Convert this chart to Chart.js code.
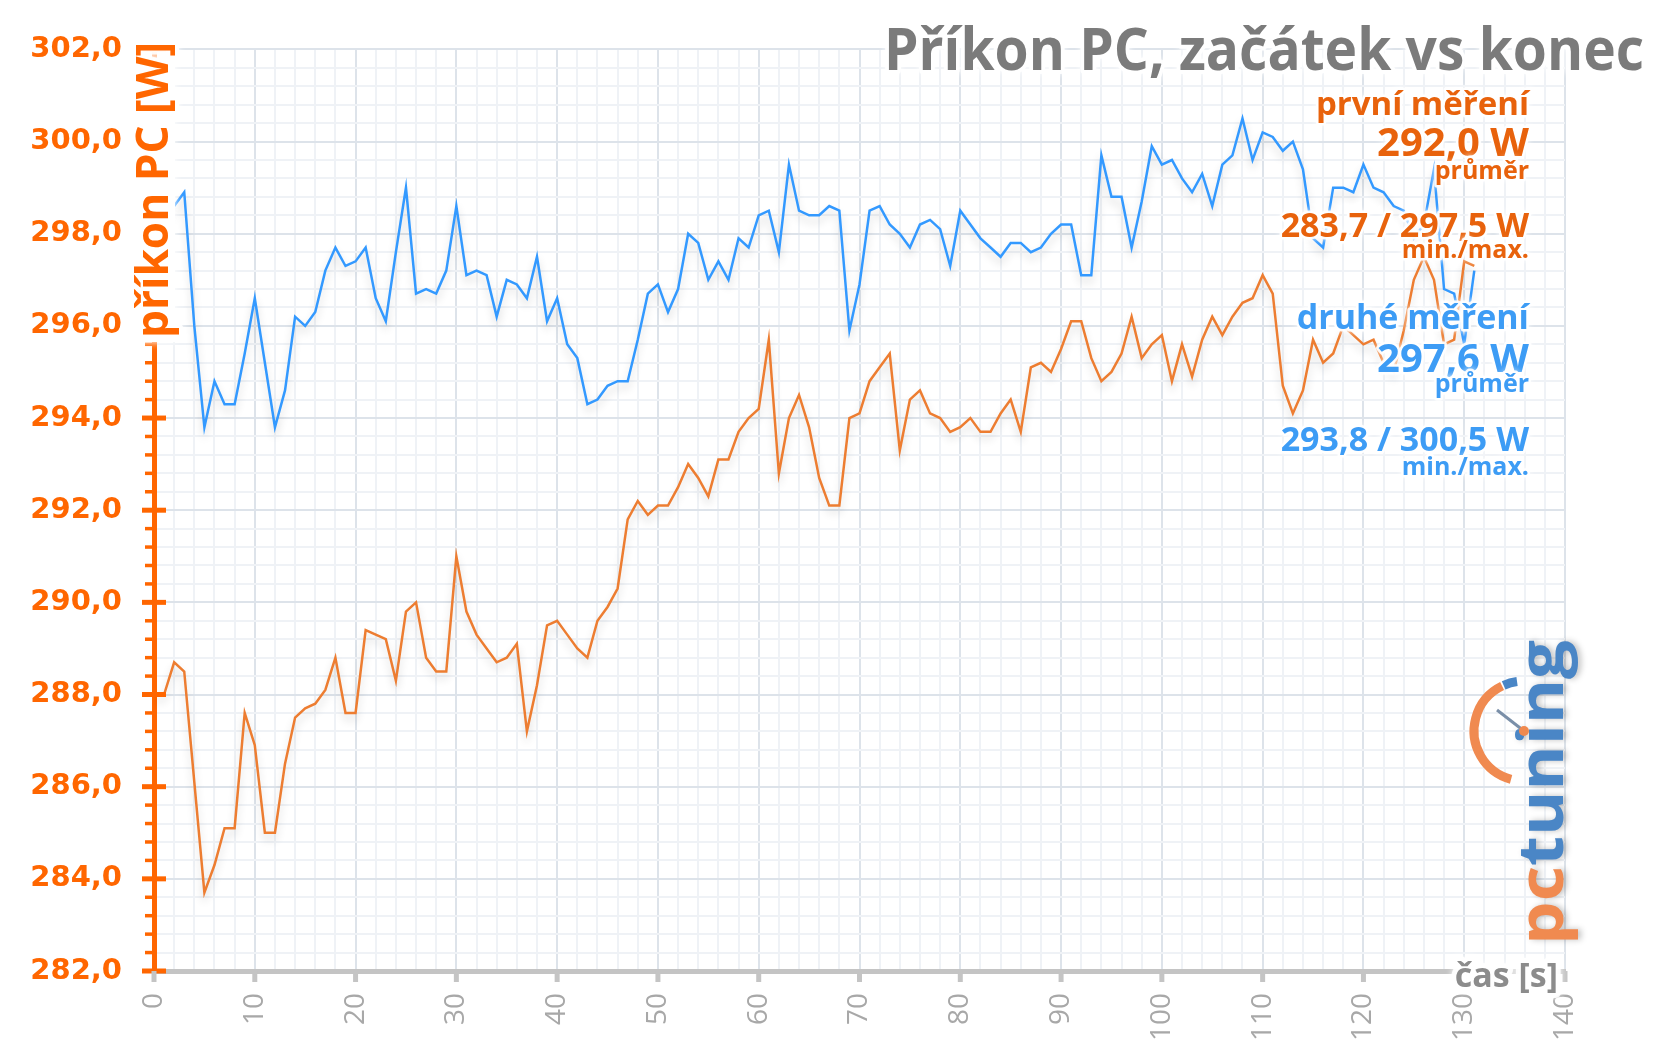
<!DOCTYPE html>
<html lang="cs">
<head>
<meta charset="UTF-8">
<title>Příkon PC, začátek vs konec</title>
<script src="https://cdn.jsdelivr.net/npm/chart.js"></script>
<style>
  html, body { margin: 0; padding: 0; background: #fff; }
  canvas { display: block; }
</style>
</head>
<body>
<canvas id="prikonChart" width="1665" height="1058"></canvas>
<script>
// cas mereni [s]
const casS = [
  0, 1, 2, 3, 4, 5, 6, 7, 8, 9, 10, 11, 12, 13, 14, 15, 16, 17, 18, 19,
  20, 21, 22, 23, 24, 25, 26, 27, 28, 29, 30, 31, 32, 33, 34, 35, 36, 37, 38, 39,
  40, 41, 42, 43, 44, 45, 46, 47, 48, 49, 50, 51, 52, 53, 54, 55, 56, 57, 58, 59,
  60, 61, 62, 63, 64, 65, 66, 67, 68, 69, 70, 71, 72, 73, 74, 75, 76, 77, 78, 79,
  80, 81, 82, 83, 84, 85, 86, 87, 88, 89, 90, 91, 92, 93, 94, 95, 96, 97, 98, 99,
  100, 101, 102, 103, 104, 105, 106, 107, 108, 109, 110, 111, 112, 113, 114, 115,
  116, 117, 118, 119, 120, 121, 122, 123, 124, 125, 126, 127, 128, 129, 130, 131
];

// prvni mereni [W]
const prvniMereni = [
  288.0, 288.0, 288.7, 288.5, 286.1, 283.7, 284.3, 285.1, 285.1, 287.6,
  286.9, 285.0, 285.0, 286.5, 287.5, 287.7, 287.8, 288.1, 288.8, 287.6,
  287.6, 289.4, 289.3, 289.2, 288.3, 289.8, 290.0, 288.8, 288.5, 288.5,
  291.0, 289.8, 289.3, 289.0, 288.7, 288.8, 289.1, 287.2, 288.2, 289.5,
  289.6, 289.3, 289.0, 288.8, 289.6, 289.9, 290.3, 291.8, 292.2, 291.9,
  292.1, 292.1, 292.5, 293.0, 292.7, 292.3, 293.1, 293.1, 293.7, 294.0,
  294.2, 295.7, 292.8, 294.0, 294.5, 293.8, 292.7, 292.1, 292.1, 294.0,
  294.1, 294.8, 295.1, 295.4, 293.3, 294.4, 294.6, 294.1, 294.0, 293.7,
  293.8, 294.0, 293.7, 293.7, 294.1, 294.4, 293.7, 295.1, 295.2, 295.0,
  295.5, 296.1, 296.1, 295.3, 294.8, 295.0, 295.4, 296.2, 295.3, 295.6,
  295.8, 294.8, 295.6, 294.9, 295.7, 296.2, 295.8, 296.2, 296.5, 296.6,
  297.1, 296.7, 294.7, 294.1, 294.6, 295.7, 295.2, 295.4, 296.0, 295.8,
  295.6, 295.7, 295.2, 295.0, 295.9, 297.0, 297.5, 297.0, 295.6, 295.7,
  297.4, 297.3
];

// druhe mereni [W]
const druheMereni = [
  298.0, 298.3, 298.6, 298.9, 296.0, 293.8, 294.8, 294.3, 294.3, 295.4,
  296.6, 295.2, 293.8, 294.6, 296.2, 296.0, 296.3, 297.2, 297.7, 297.3,
  297.4, 297.7, 296.6, 296.1, 297.6, 299.0, 296.7, 296.8, 296.7, 297.2,
  298.6, 297.1, 297.2, 297.1, 296.2, 297.0, 296.9, 296.6, 297.5, 296.1,
  296.6, 295.6, 295.3, 294.3, 294.4, 294.7, 294.8, 294.8, 295.7, 296.7,
  296.9, 296.3, 296.8, 298.0, 297.8, 297.0, 297.4, 297.0, 297.9, 297.7,
  298.4, 298.5, 297.6, 299.5, 298.5, 298.4, 298.4, 298.6, 298.5, 295.9,
  296.9, 298.5, 298.6, 298.2, 298.0, 297.7, 298.2, 298.3, 298.1, 297.3,
  298.5, 298.2, 297.9, 297.7, 297.5, 297.8, 297.8, 297.6, 297.7, 298.0,
  298.2, 298.2, 297.1, 297.1, 299.7, 298.8, 298.8, 297.7, 298.7, 299.9,
  299.5, 299.6, 299.2, 298.9, 299.3, 298.6, 299.5, 299.7, 300.5, 299.6,
  300.2, 300.1, 299.8, 300.0, 299.4, 297.9, 297.7, 299.0, 299.0, 298.9,
  299.5, 299.0, 298.9, 298.6, 298.5, 297.9, 298.2, 299.4, 296.8, 296.7,
  295.6, 297.2
];

const osaY = { min: 282, max: 302, krok: 0.4, hlavni: 2 };
const osaX = { min: 0, max: 140, krok: 2, hlavni: 10 };

const nadpis = 'Příkon PC, začátek vs konec';
const titulekY = 'příkon PC [W]';
const titulekX = 'čas [s]';

const oranzova = '#ed7d31';
const modra = '#3399ff';
const oranzovyText = '#e8620c';
const modryText = '#3d9cf5';
const osaOranzova = '#ff6600';

// texty vpravo: [text, baseline y, velikost, barva]
const popisky = [
  ['první měření', 115, 33, oranzovyText],
  ['292,0 W', 156, 40, oranzovyText],
  ['průměr', 179, 25, oranzovyText],
  ['283,7 / 297,5 W', 237, 34, oranzovyText],
  ['min./max.', 258, 25, oranzovyText],
  ['druhé měření', 329, 34, modryText],
  ['297,6 W', 372, 40, modryText],
  ['průměr', 392, 25, modryText],
  ['293,8 / 300,5 W', 451, 34, modryText],
  ['min./max.', 475, 25, modryText]
];

function jeHlavni(v, k) {
  return Math.abs(v / k - Math.round(v / k)) < 1e-6;
}

function napis(ctx, o) {
  ctx.save();
  ctx.font = o.font;
  ctx.translate(o.x, o.y);
  if (o.rot) ctx.rotate(o.rot);
  if (o.sirka) {
    const w = ctx.measureText(o.text).width;
    ctx.scale(o.sirka / w, 1);
  }
  ctx.textAlign = o.align || 'left';
  ctx.textBaseline = 'alphabetic';
  if (o.zar) {
    ctx.lineJoin = 'round';
    ctx.strokeStyle = 'rgba(255,255,255,0.9)';
    ctx.lineWidth = o.zar;
    ctx.shadowColor = '#ffffff';
    ctx.shadowBlur = 6;
    ctx.strokeText(o.text, 0, 0);
    ctx.shadowBlur = 0;
  }
  ctx.fillStyle = o.barva;
  ctx.fillText(o.text, 0, 0);
  ctx.restore();
}

const stinPlugin = {
  id: 'stin',
  beforeDatasetsDraw(chart) {
    const ctx = chart.ctx;
    ctx.save();
    ctx.shadowColor = 'rgba(0,0,0,0.16)';
    ctx.shadowBlur = 9;
    ctx.shadowOffsetY = 6;
  },
  afterDatasetsDraw(chart) {
    chart.ctx.restore();
  }
};

const dekorPlugin = {
  id: 'dekor',
  afterDraw(chart) {
    const ctx = chart.ctx;
    const area = chart.chartArea;
    const sy = chart.scales.y;
    const sx = chart.scales.x;

    // tick marks osy Y
    ctx.save();
    ctx.strokeStyle = osaOranzova;
    sy.ticks.forEach(t => {
      const y = sy.getPixelForValue(t.value);
      const h = jeHlavni(t.value, osaY.hlavni);
      ctx.lineWidth = h ? 5 : 3.5;
      ctx.beginPath();
      ctx.moveTo(area.left - (h ? 12 : 9), y);
      ctx.lineTo(area.left + (h ? 12 : 0), y);
      ctx.stroke();
    });
    // tick marks osy X
    ctx.strokeStyle = '#c4c4c4';
    ctx.lineWidth = 5;
    sx.ticks.forEach(t => {
      if (!jeHlavni(t.value, osaX.hlavni)) return;
      const x = sx.getPixelForValue(t.value);
      ctx.beginPath();
      ctx.moveTo(x, area.bottom);
      ctx.lineTo(x, area.bottom + 11);
      ctx.stroke();
    });
    ctx.restore();

    // bile pozadi pod titulkem osy Y
    ctx.save();
    ctx.fillStyle = '#ffffff';
    ctx.shadowColor = '#ffffff';
    ctx.shadowBlur = 8;
    ctx.fillRect(131, 58, 44, 284);
    ctx.restore();
    // titulek osy Y
    napis(ctx, { text: titulekY, x: 168, y: 338, rot: -Math.PI / 2, font: 'bold 45px "Open Sans"',
      barva: osaOranzova, sirka: 296, zar: 8 });
    // titulek osy X
    napis(ctx, { text: titulekX, x: 1558, y: 987, font: 'bold 34px "Open Sans"',
      barva: '#8c8c8c', align: 'right', zar: 10 });
    // nadpis
    napis(ctx, { text: nadpis, x: 1644, y: 70, font: 'bold 59px "Open Sans"',
      barva: '#7b7b7b', align: 'right', sirka: 760, zar: 8 });

    // popisky vpravo
    popisky.forEach(p => {
      napis(ctx, { text: p[0], x: 1529, y: p[1], font: 'bold ' + p[2] + 'px "Open Sans"',
        barva: p[3], align: 'right', zar: 5 });
    });

    // logo pctuning
    ctx.save();
    ctx.translate(1563, 945);
    ctx.rotate(-Math.PI / 2);
    ctx.font = 'bold 62px "Open Sans"';
    const wPc = ctx.measureText('pc').width;
    const wAll = ctx.measureText('pctuning').width;
    ctx.scale(305 / wAll, 1);
    ctx.shadowColor = 'rgba(0,0,0,0.25)';
    ctx.shadowBlur = 6;
    ctx.shadowOffsetX = 3;
    ctx.fillStyle = '#f08a50';
    ctx.fillText('pc', 0, 0);
    ctx.fillStyle = '#4a86c6';
    ctx.fillText('tuning', wPc, 0);
    ctx.restore();

    ctx.save();
    const cx = 1524, cy = 731;
    ctx.lineWidth = 9;
    ctx.strokeStyle = '#f08a50';
    ctx.beginPath();
    ctx.arc(cx, cy, 50, 105 * Math.PI / 180, 244 * Math.PI / 180);
    ctx.stroke();
    ctx.strokeStyle = '#4a86c6';
    ctx.beginPath();
    ctx.arc(cx, cy, 50, 246 * Math.PI / 180, 262 * Math.PI / 180);
    ctx.stroke();
    ctx.lineWidth = 3;
    ctx.strokeStyle = '#7a8fa8';
    ctx.beginPath();
    ctx.moveTo(cx, cy);
    ctx.lineTo(cx - 27, cy - 21);
    ctx.stroke();
    ctx.fillStyle = '#f08a50';
    ctx.beginPath();
    ctx.arc(cx, cy, 5, 0, Math.PI * 2);
    ctx.fill();
    ctx.restore();
  }
};

const ctx = document.getElementById('prikonChart').getContext('2d');

const prikonChart = new Chart(ctx, {
  type: 'line',
  data: {
    labels: casS,
    datasets: [
      {
        label: 'první měření',
        data: prvniMereni,
        borderColor: oranzova,
        borderWidth: 2.5,
        pointRadius: 0,
        tension: 0,
        fill: false
      },
      {
        label: 'druhé měření',
        data: druheMereni,
        borderColor: modra,
        borderWidth: 2.5,
        pointRadius: 0,
        tension: 0,
        fill: false
      }
    ]
  },
  options: {
    responsive: false,
    animation: false,
    layout: { padding: { top: 49, right: 100, left: 0, bottom: 0 } },
    plugins: {
      legend: { display: false },
      tooltip: { enabled: false },
      title: { display: false }
    },
    scales: {
      x: {
        type: 'linear',
        min: osaX.min,
        max: osaX.max,
        afterFit: s => { s.height = 87; },
        ticks: {
          stepSize: osaX.krok,
          autoSkip: false,
          minRotation: 90,
          maxRotation: 90,
          padding: 22,
          color: '#a8a8a8',
          font: { family: 'Open Sans', size: 28 },
          callback: v => jeHlavni(v, osaX.hlavni) ? String(v) : ''
        },
        grid: {
          color: c => jeHlavni(c.tick.value, osaX.hlavni) ? '#dde3ea' : '#eff2f6',
          lineWidth: 2,
          drawTicks: false
        },
        border: { color: '#c4c4c4', width: 5 }
      },
      y: {
        min: osaY.min,
        max: osaY.max,
        afterFit: s => { s.width = 154; },
        ticks: {
          stepSize: osaY.krok,
          autoSkip: false,
          padding: 32,
          color: osaOranzova,
          font: { family: 'DejaVu Sans', size: 29, weight: 'bold' },
          callback: v => jeHlavni(v, osaY.hlavni) ? v.toFixed(1).replace('.', ',') : ''
        },
        grid: {
          color: c => jeHlavni(c.tick.value, osaY.hlavni) ? '#dde3ea' : '#eff2f6',
          lineWidth: 2,
          drawTicks: false
        },
        border: { color: osaOranzova, width: 5 }
      }
    }
  },
  plugins: [stinPlugin, dekorPlugin]
});
</script>
</body>
</html>
